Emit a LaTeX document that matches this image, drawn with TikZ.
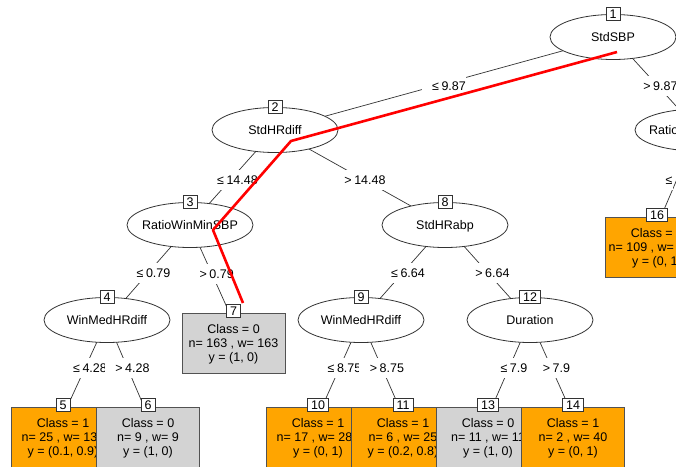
\documentclass[tikz,border=0pt]{standalone}
\usepackage{fontspec}
\setmainfont{Liberation Sans}
\usetikzlibrary{shapes.geometric,calc}
\pgfdeclarelayer{bgwhite}
\pgfdeclarelayer{edges}
\pgfdeclarelayer{elabels}
\pgfdeclarelayer{front}
\pgfsetlayers{bgwhite,edges,elabels,main,front}
\definecolor{leaforange}{HTML}{FFA500}
\definecolor{leafgray}{HTML}{D3D3D3}
\definecolor{linegray}{HTML}{333333}
\newcommand\treefs{\fontsize{12.5}{14.25}\selectfont}
\newcommand\edgelab[2]{\hspace*{10pt}#1\kern2.5pt#2}
\tikzset{
  ell/.style={ellipse, draw=linegray, line width=0.8pt, fill=white, minimum width=126pt, minimum height=45pt, inner sep=0pt},
  ntext/.style={anchor=base, inner sep=0pt, font=\treefs},
  numbox/.style={rectangle, draw=linegray, line width=0.8pt, fill=white, inner xsep=3.5pt, inner ysep=2pt, text height=9pt, text depth=0pt, font=\treefs},
  leafbox/.style={rectangle, draw=linegray!85, line width=0.8pt, minimum width=103pt, minimum height=60pt, inner sep=0pt, anchor=north},
  edgeline/.style={draw=linegray, line width=0.7pt},
  elab/.style={fill=white, inner xsep=0.5pt, inner ysep=5.5pt, text height=9pt, text depth=0pt, font=\treefs},
  redpath/.style={draw=red, line width=2.6pt, line join=round},
}
\newcommand\ellnode[5]{%
  \node[ell] (#1) at (#2,#3) {};
  \node[ntext] (#1-t) at (#2,#3+4.5) {#5};
  \node[numbox] (#1-n) at (#1.north) {#4};
}
\newcommand\leafnode[8]{%
  \node[leafbox, fill=#4] (#1) at (#2,#3) {};
  \node[ntext] (#1-a) at (#2,#3+20) {#6};
  \node[ntext] (#1-b) at (#2,#3+34.25) {#7};
  \node[ntext] (#1-c) at (#2,#3+48.5) {#8};
  \node[numbox] (#1-n) at (#2,#3-2.5) {#5};
  \coordinate (#1-aim) at (#2,#3+9);
}
\begin{document}
\begin{tikzpicture}[x=1pt,y=-1pt]
\useasboundingbox (0,0) rectangle (676,466);
\begin{pgfonlayer}{bgwhite}
\fill[white] (0,0) rectangle (676,466);
\end{pgfonlayer}

% inner nodes
\ellnode{n1}{613}{37}{1}{StdSBP}
\ellnode{n2}{275}{130}{2}{StdHRdiff}
\ellnode{n3}{190}{225}{3}{RatioWinMinSBP}
\ellnode{n8}{445}{225}{8}{StdHRabp}
\ellnode{n4}{107}{320}{4}{WinMedHRdiff}
\ellnode{n9}{361}{320}{9}{WinMedHRdiff}
\ellnode{n12}{530}{320}{12}{Duration}
\node[ell, minimum height=42pt] (n15) at (698,130) {};
\node[ntext, anchor=base west] (n15-t) at (649,134.5) {Ratio};

% terminal nodes (left to right, each covers the overflow of the previous)
\leafnode{l5}{63}{407}{leaforange}{5}{Class = 1}{n= 25 , w= 13\phantom{9}}{y = (0.1, 0.9)}
\leafnode{l6}{148}{407}{leafgray}{6}{Class = 0}{n= 9 , w= 9}{y = (1, 0)}
\leafnode{l7}{233.5}{313}{leafgray}{7}{Class = 0}{n= 163 , w= 163}{y = (1, 0)}
\leafnode{l10}{318}{407}{leaforange}{10}{Class = 1}{n= 17 , w= 28\phantom{3}}{y = (0, 1)}
\leafnode{l11}{403}{407}{leaforange}{11}{Class = 1}{n= 6 , w= 25}{y = (0.2, 0.8)}
\leafnode{l13}{488}{407}{leafgray}{13}{Class = 0}{n= 11 , w= 11}{y = (1, 0)}
\leafnode{l14}{573}{407}{leaforange}{14}{Class = 1}{n= 2 , w= 40}{y = (0, 1)}
\leafnode{l16}{657}{217}{leaforange}{16}{Class = \phantom{1}}{n= 109 , w= \phantom{0000}}{y = (0, 1)}

% connectors
\begin{pgfonlayer}{edges}
\draw[edgeline] (n1.center) -- (n2.center);
\draw[edgeline] (n1.center) -- (n15.center);
\draw[edgeline] (n2.center) -- (n3.center);
\draw[edgeline] (n2.center) -- (n8.center);
\draw[edgeline] (n3.center) -- (n4.center);
\draw[edgeline] (n3.center) -- (l7-aim);
\draw[edgeline] (n8.center) -- (n9.center);
\draw[edgeline] (n8.center) -- (n12.center);
\draw[edgeline] (n4.center) -- (l5-aim);
\draw[edgeline] (n4.center) -- (l6-aim);
\draw[edgeline] (n9.center) -- (l10-aim);
\draw[edgeline] (n9.center) -- (l11-aim);
\draw[edgeline] (n12.center) -- (l13-aim);
\draw[edgeline] (n12.center) -- (l14-aim);
\draw[edgeline] (n15.center) -- (l16-aim);
\end{pgfonlayer}

% connector labels
\begin{pgfonlayer}{elabels}
\path (n1.center) -- (n2.center) node[elab, pos=.5, yshift=-2pt] (x1-2) {\edgelab{≤}{9.87}};
\path (n1.center) -- (n15.center) node[elab, pos=.5, yshift=-2pt] (x1-15) {\edgelab{>}{9.87}};
\path (n2.center) -- (n3.center) node[elab, pos=.5, yshift=-2pt] (x2-3) {\edgelab{≤}{14.48}};
\path (n2.center) -- (n8.center) node[elab, pos=.5, yshift=-2pt] (x2-8) {\edgelab{>}{14.48}};
\path (n3.center) -- (n4.center) node[elab, pos=.5] (x3-4) {\edgelab{≤}{0.79}};
\path (n3.center) -- (l7-aim) node[elab, pos=.5] (x3-7) {\edgelab{>}{0.79}};
\path (n8.center) -- (n9.center) node[elab, pos=.5] (x8-9) {\edgelab{≤}{6.64}};
\path (n8.center) -- (n12.center) node[elab, pos=.5] (x8-12) {\edgelab{>}{6.64}};
\path (n4.center) -- (l5-aim) node[elab, pos=.5] (x4-5) {\edgelab{≤}{4.28}};
\path (n4.center) -- (l6-aim) node[elab, pos=.5] (x4-6) {\edgelab{>}{4.28}};
\path (n9.center) -- (l10-aim) node[elab, pos=.5] (x9-10) {\edgelab{≤}{8.75}};
\path (n9.center) -- (l11-aim) node[elab, pos=.5] (x9-11) {\edgelab{>}{8.75}};
\path (n12.center) -- (l13-aim) node[elab, pos=.5] (x12-13) {\edgelab{≤}{7.9}};
\path (n12.center) -- (l14-aim) node[elab, pos=.5] (x12-14) {\edgelab{>}{7.9}};
\path (n15.center) -- (l16-aim) coordinate[pos=.5] (m15-16);
\node[elab, anchor=west, yshift=-2pt] (x15-16) at ($(m15-16)+(-22.5,0)$) {\hspace*{10pt}≤};
\end{pgfonlayer}

% highlighted path
\coordinate (r1) at (617,52);
\coordinate (r2) at (291,141);
\coordinate (r3) at (213,230);
\coordinate (r4) at (243,303);
\begin{pgfonlayer}{front}
\draw[redpath] (r1) -- (r2) -- (r3) -- (r4);
\end{pgfonlayer}
\end{tikzpicture}
\end{document}
